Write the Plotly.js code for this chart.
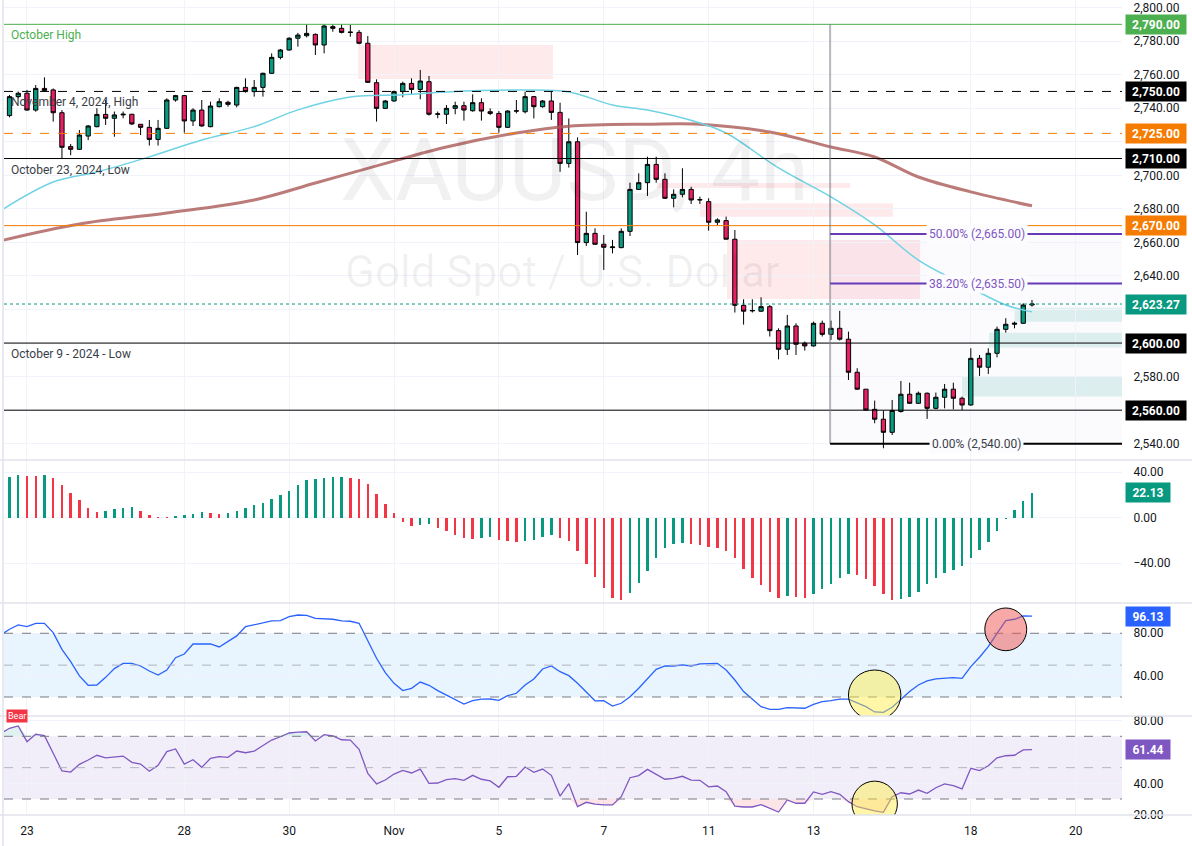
<!DOCTYPE html>
<html>
<head>
<meta charset="utf-8">
<script src="https://cdn.plot.ly/plotly-3.0.1.min.js"></script>
<style>
html,body{margin:0;padding:0;background:#ffffff;}
#chart{width:1192px;height:846px;}
</style>
</head>
<body>
<div id="chart"></div>
<script>
// ---------------- DATA ----------------
// 4h candles; candle number 0 = first candle of Oct 23
const firstCandle = -3;
const openP = [2732.0,2735.6,2746.9,2748.9,2738.9,2751.8,2750.9,2737.3,2717.1,2715.5,2723.4,2729.0,2736.3,2734.0,2736.0,2736.4,2730.4,2728.6,2721.4,2728.0,2744.9,2747.5,2732.4,2738.9,2729.0,2740.9,2743.5,2741.9,2752.4,2749.9,2752.4,2760.8,2770.3,2774.7,2781.7,2783.2,2784.0,2777.7,2788.6,2787.6,2785.4,2785.2,2778.7,2755.2,2739.9,2744.3,2749.9,2754.8,2751.2,2755.8,2736.4,2736.4,2739.9,2741.5,2738.5,2743.3,2737.9,2736.9,2728.6,2738.3,2737.9,2746.9,2740.9,2744.3,2737.5,2707.1,2720.0,2659.9,2665.4,2658.9,2656.9,2656.9,2666.6,2691.6,2695.6,2706.5,2697.6,2686.3,2688.7,2691.6,2685.3,2684.3,2672.0,2673.0,2661.9,2622.5,2619.2,2619.0,2621.7,2607.4,2596.3,2610.2,2599.9,2598.3,2611.8,2605.2,2608.8,2602.3,2582.6,2572.5,2560.5,2554.6,2546.8,2559.2,2569.5,2564.1,2570.1,2561.1,2567.7,2572.5,2567.1,2563.1,2590.9,2585.6,2593.9,2608.2,2611.2,2611.8,2622.7];
const highP = [2736.5,2747.9,2749.9,2750.9,2753.8,2758.4,2751.8,2738.9,2718.7,2727.0,2730.0,2740.0,2744.9,2738.0,2738.0,2736.6,2730.6,2733.0,2733.0,2745.9,2747.9,2747.9,2740.0,2744.9,2743.9,2745.9,2744.5,2752.8,2757.8,2756.8,2761.2,2772.7,2775.3,2782.3,2784.9,2790.0,2784.6,2790.0,2790.0,2790.0,2789.6,2786.6,2783.0,2757.2,2744.9,2750.5,2755.8,2757.8,2762.8,2759.2,2738.0,2741.9,2743.9,2743.9,2748.3,2745.9,2739.9,2738.3,2738.9,2744.9,2749.9,2747.3,2744.9,2749.9,2743.3,2733.9,2722.6,2678.3,2668.4,2664.4,2661.5,2668.4,2695.6,2701.2,2711.1,2711.1,2701.2,2691.6,2704.2,2693.2,2687.3,2686.3,2674.4,2675.4,2667.4,2626.1,2626.1,2627.3,2622.7,2608.8,2616.8,2611.8,2600.9,2612.8,2613.4,2613.4,2619.2,2606.8,2585.0,2572.5,2565.7,2559.8,2566.1,2577.4,2576.4,2571.1,2570.5,2570.5,2575.6,2576.4,2568.1,2596.9,2592.9,2596.9,2609.8,2614.8,2612.8,2623.7,2625.7];
const lowP = [2731.5,2734.6,2745.9,2738.5,2737.9,2749.9,2732.0,2710.1,2712.0,2715.1,2721.0,2728.6,2730.0,2723.0,2734.0,2730.0,2724.0,2717.7,2717.7,2727.6,2743.9,2725.4,2729.4,2729.0,2728.6,2740.5,2740.9,2740.5,2749.3,2746.9,2746.9,2760.4,2769.1,2774.3,2776.7,2782.2,2771.7,2772.7,2785.6,2784.6,2782.6,2778.1,2755.2,2732.0,2739.5,2743.9,2746.5,2747.9,2745.3,2735.6,2734.0,2730.6,2736.4,2732.6,2737.9,2732.6,2735.9,2725.4,2728.2,2736.9,2736.9,2733.9,2740.3,2733.0,2702.1,2704.6,2652.5,2657.9,2658.5,2643.6,2653.5,2656.5,2663.8,2691.3,2687.7,2695.6,2685.9,2680.9,2686.9,2682.9,2682.9,2667.0,2670.4,2661.9,2618.2,2611.0,2618.2,2618.6,2603.9,2590.3,2592.9,2592.9,2595.5,2597.9,2603.9,2601.9,2601.5,2578.0,2572.1,2559.8,2552.2,2537.3,2545.2,2558.6,2563.7,2563.7,2554.8,2560.5,2561.1,2560.5,2560.1,2562.7,2580.4,2581.6,2591.5,2606.2,2608.8,2611.4,2621.7];
const closeP = [2735.5,2746.9,2748.9,2738.9,2751.8,2750.5,2737.3,2716.7,2715.5,2724.0,2729.4,2736.3,2734.0,2736.0,2736.4,2730.6,2728.6,2721.4,2728.0,2744.9,2747.5,2732.4,2738.9,2729.4,2741.3,2743.9,2742.3,2752.4,2749.9,2752.4,2760.8,2770.3,2774.7,2781.7,2783.6,2784.6,2777.7,2789.0,2787.6,2785.2,2785.2,2778.7,2755.4,2739.9,2744.3,2749.9,2754.8,2751.2,2756.2,2736.4,2736.6,2739.9,2741.5,2738.9,2743.3,2738.3,2736.9,2728.6,2738.3,2738.4,2746.9,2740.9,2744.3,2737.5,2707.1,2720.0,2659.9,2665.4,2658.9,2657.1,2657.3,2666.6,2691.6,2695.6,2706.5,2697.6,2686.3,2688.7,2691.6,2685.3,2685.5,2672.0,2673.4,2661.9,2622.5,2619.0,2619.4,2621.7,2607.4,2596.3,2610.2,2599.3,2598.3,2611.8,2605.2,2608.8,2602.3,2582.6,2572.5,2560.1,2554.6,2546.8,2559.8,2569.5,2564.1,2570.1,2561.1,2567.7,2572.5,2567.1,2563.1,2590.9,2585.6,2593.9,2608.2,2611.2,2611.8,2622.7,2623.27];

// moving averages read at selected candles
const fastMaIdx = [-3,3,8,14,20,26,31,37,43,48,56,62,67,71,77,80,86,92,97,102,108,112,115];
const fastMaVal = [2679,2696,2702,2711,2721,2729,2739,2746.7,2748,2749.7,2750.8,2749.7,2741.9,2738.9,2731.2,2725.2,2704.4,2687.1,2670.4,2649.5,2632.9,2622.7,2618.6];
const slowMaIdx = [-3,6,16,26,33,40,48,56,62,71,77,85,92,97,102,108,115];
const slowMaVal = [2661,2671,2677.5,2685.3,2695.4,2705.6,2716.9,2725.2,2729.3,2730.5,2730.5,2725.8,2716.9,2710.9,2699,2690.1,2681.8];

// histogram oscillator (starts at candle -2)
const histFirst = -2;
const histVal = [36.0,37.5,36.9,36.5,37.5,35.2,28.7,22.0,15.8,8.8,5.3,5.9,7.6,8.8,9.0,5.9,2.3,0.9,0.3,1.5,2.3,3.2,5.0,4.1,3.2,4.1,5.9,8.5,11.1,12.9,16.4,19.9,23.4,28.7,33.1,34.0,34.9,35.7,35.9,34.9,34.0,29.6,20.8,12.0,4.1,-3.5,-7.0,-6.2,-5.9,-8.8,-11.7,-15.2,-17.6,-18.5,-17.6,-17.3,-19.3,-20.2,-21.1,-20.2,-19.3,-16.7,-14.9,-17.6,-20.2,-29.0,-40.4,-51.9,-61.5,-70.3,-72.4,-66.5,-57.7,-46.6,-35.2,-26.4,-23.4,-22.3,-23.2,-24.0,-25.8,-26.4,-29.0,-35.2,-45.1,-52.7,-59.2,-65.6,-70.3,-68.6,-69.4,-70.3,-67.4,-62.7,-58.0,-52.7,-49.2,-50.4,-53.9,-59.8,-67.4,-72.4,-71.8,-69.4,-65.1,-58.6,-52.7,-48.9,-46.0,-42.2,-35.8,-28.1,-21.1,-11.7,-0.9,6.7,14.6,22.13];

// stochastic (starts at candle -3)
const stochVal = [78.4,83.8,87.8,86.2,89.4,89.4,80.6,64.9,53.3,39.8,31.0,31.3,38.5,46.7,51.7,51.7,49.2,44.5,40.7,45.4,57.0,60.5,69.9,70.2,69.9,67.1,72.5,77.5,86.2,88.1,89.4,91.6,91.9,95.6,97.2,96.9,94.1,93.7,93.2,91.6,91.3,89.4,73.7,56.5,42.9,32.9,26.0,28.2,34.1,31.0,26.0,21.9,18.1,13.4,16.5,17.9,18.1,16.9,21.2,23.5,31.3,37.0,46.4,49.2,43.8,40.1,32.9,25.1,16.4,16.5,11.5,14.1,20.3,28.2,37.0,46.1,49.2,49.2,50.2,49.2,51.1,51.7,51.7,45.4,36.0,25.1,17.9,10.9,8.4,8.4,9.9,9.9,9.4,13.1,15.6,16.5,17.9,17.9,14.1,10.9,5.9,5.6,10.3,17.9,25.1,31.3,35.1,37.0,37.9,38.2,37.6,48.6,57.4,67.4,80.0,91.9,93.2,96.3,96.13];

// RSI (starts at candle -3)
const rsiVal = [71.9,75.1,76.6,66.6,71.3,70.4,59.2,47.9,47.2,52.1,54.9,57.9,56.3,57.0,57.4,53.4,52.3,47.7,51.5,60.2,61.9,52.3,55.1,50.2,56.0,57.0,56.6,60.6,59.5,60.6,64.3,67.6,69.7,72.1,72.7,72.9,67.0,71.0,70.2,67.8,67.6,61.7,46.4,39.6,42.1,45.9,48.3,46.6,49.1,40.0,40.2,42.3,43.0,41.9,45.1,42.6,41.5,37.5,44.2,44.5,50.4,47.0,49.1,45.1,31.9,39.8,25.1,27.9,26.7,26.2,26.2,31.5,43.6,44.9,48.9,45.9,42.6,43.2,44.5,42.1,41.9,37.8,38.3,34.7,25.5,24.9,24.9,26.4,24.1,21.7,29.4,27.3,27.3,34.5,33.0,34.7,33.0,28.3,25.1,23.6,22.5,21.5,31.5,34.0,33.2,35.7,33.6,37.2,39.6,38.5,36.4,49.6,48.1,51.2,56.3,57.6,57.9,61.3,61.44];
const rsiUpper = 70, rsiLower = 30;

// axis ticks
const dayTickIdx = [0,18,30,42,54,66,78,90,108,120];
const dayTickText = ['23','28','30','Nov','5','7','11','13','18','20'];
const priceTicks = [2540,2560,2580,2600,2620,2640,2660,2680,2700,2720,2740,2760,2780,2800];

// horizontal levels
const levelPrice = [2790,2750,2725,2710,2670,2623.27,2600,2560,2530];
const levelNote = {2790:'October High',2750:'November 4, 2024, High',2710:'October 23, 2024, Low',2600:'October 9 - 2024 - Low'};

// fibonacci retracement
const fibStartIdx = 91.9;
const fibPct = ['50.00%','38.20%','0.00%'];
const fibPrice = [2665,2635.5,2540];
const fibTopPrice = 2790;

// zones [fromCandle, toCandle, lowPrice, highPrice]
const supplyZones = [[37.9,60.2,2757.4,2777.7],[72.1,94.2,2692.4,2695.4],[77,99.1,2675.3,2683.2],[80.1,102.2,2626.3,2661.5]];
const demandZones = [[113.0,126,2612.7,2621.0],[110.1,126,2597.3,2606.2],[107.0,126,2568.1,2580.4]];

// ---------------- BUILD ----------------
const candleX = openP.map((_, k) => k + firstCandle);
const histX = histVal.map((_, k) => k + histFirst);
const histColor = histVal.map((v, k) => (k === 0 || v >= histVal[k-1]) ? '#089981' : '#f23645');
const oscX = stochVal.map((_, k) => k + firstCandle);

const fmt = v => v.toLocaleString('en-US',{minimumFractionDigits:2,maximumFractionDigits:2});
const FONT = 'Roboto, "Open Sans", Arial, sans-serif';
const TXT = '#131722';

// price labels that sit under level boxes are not shown
const coveredTicks = [2560,2600,2620,2720];

const traces = [
  {type:'candlestick', x:candleX, open:openP, high:highP, low:lowP, close:closeP, xaxis:'x', yaxis:'y',
   increasing:{line:{color:'#000000',width:1}, fillcolor:'#089981'},
   decreasing:{line:{color:'#000000',width:1}, fillcolor:'#e91e63'},
   whiskerwidth:0, hoverinfo:'skip', showlegend:false},
  {type:'scatter', mode:'lines', x:slowMaIdx, y:slowMaVal, xaxis:'x', yaxis:'y',
   line:{color:'rgba(170,90,86,0.8)', width:3, shape:'spline', smoothing:1}, hoverinfo:'skip', showlegend:false},
  {type:'scatter', mode:'lines', x:fastMaIdx, y:fastMaVal, xaxis:'x', yaxis:'y',
   line:{color:'#6fd3e3', width:1.5, shape:'spline', smoothing:1}, hoverinfo:'skip', showlegend:false},
  {type:'bar', x:histX, y:histVal, xaxis:'x', yaxis:'y2', width:0.28,
   marker:{color:histColor, line:{width:0}}, hoverinfo:'skip', showlegend:false},
  {type:'scatter', mode:'lines', x:oscX, y:stochVal, xaxis:'x', yaxis:'y3',
   line:{color:'#2962ff', width:1.3}, hoverinfo:'skip', showlegend:false},
  // RSI oversold / overbought shading
  {type:'scatter', mode:'lines', x:oscX, y:oscX.map(() => rsiLower), xaxis:'x', yaxis:'y4', line:{width:0}, hoverinfo:'skip', showlegend:false},
  {type:'scatter', mode:'lines', x:oscX, y:rsiVal.map(v => Math.min(v, rsiLower)), xaxis:'x', yaxis:'y4', line:{width:0}, fill:'tonexty', fillcolor:'rgba(242,54,69,0.13)', hoverinfo:'skip', showlegend:false},
  {type:'scatter', mode:'lines', x:oscX, y:oscX.map(() => rsiUpper), xaxis:'x', yaxis:'y4', line:{width:0}, hoverinfo:'skip', showlegend:false},
  {type:'scatter', mode:'lines', x:oscX, y:rsiVal.map(v => Math.max(v, rsiUpper)), xaxis:'x', yaxis:'y4', line:{width:0}, fill:'tonexty', fillcolor:'rgba(8,153,129,0.13)', hoverinfo:'skip', showlegend:false},
  {type:'scatter', mode:'lines', x:oscX, y:rsiVal, xaxis:'x', yaxis:'y4',
   line:{color:'#7e57c2', width:1.3}, hoverinfo:'skip', showlegend:false}
];

const shapes = [];
const annotations = [];

// pane backgrounds / bands
shapes.push({type:'rect', xref:'paper', x0:0, x1:1, yref:'y3', y0:20, y1:80, fillcolor:'rgba(33,150,243,0.1)', line:{width:0}, layer:'below'});
shapes.push({type:'rect', xref:'paper', x0:0, x1:1, yref:'y4', y0:rsiLower, y1:rsiUpper, fillcolor:'rgba(126,87,194,0.1)', line:{width:0}, layer:'below'});
[[80,'#787b86'],[50,'#b2b5be'],[20,'#787b86']].forEach(([v,c]) => shapes.push({type:'line', xref:'paper', x0:0, x1:1, yref:'y3', y0:v, y1:v, line:{color:c, width:1, dash:'dash'}}));
[[70,'#787b86'],[50,'#b2b5be'],[30,'#787b86']].forEach(([v,c]) => shapes.push({type:'line', xref:'paper', x0:0, x1:1, yref:'y4', y0:v, y1:v, line:{color:c, width:1, dash:'dash'}}));

// zones
supplyZones.forEach(z => shapes.push({type:'rect', xref:'x', yref:'y', x0:z[0], x1:z[1], y0:z[2], y1:z[3], fillcolor:'rgba(242,54,69,0.11)', line:{width:0}, layer:'below'}));
demandZones.forEach(z => shapes.push({type:'rect', xref:'x', yref:'y', x0:z[0], x1:z[1], y0:z[2], y1:z[3], fillcolor:'rgba(8,153,129,0.12)', line:{width:0}, layer:'below'}));
// fib background
shapes.push({type:'rect', xref:'x', yref:'y', x0:fibStartIdx, x1:126, y0:fibPrice[2], y1:fibPrice[0], fillcolor:'rgba(103,58,183,0.025)', line:{width:0}, layer:'below'});

// horizontal levels
const levelStyle = {
  2790:{color:'#4caf50', dash:'solid', box:'#4caf50'},
  2750:{color:'#000000', dash:'dash', box:'#000000'},
  2725:{color:'#f57c00', dash:'dash', box:'#f57c00'},
  2710:{color:'#000000', dash:'solid', box:'#000000'},
  2670:{color:'#f57c00', dash:'solid', box:'#f57c00'},
  2623.27:{color:'#089981', dash:'dot', box:'#089981'},
  2600:{color:'#000000', dash:'solid', box:'#000000'},
  2560:{color:'#000000', dash:'solid', box:'#000000'},
  2530:{color:null, dash:'solid', box:'#000000'}
};
levelPrice.forEach(p => {
  const st = levelStyle[p];
  if (st.color) shapes.push({type:'line', xref:'paper', x0:0, x1:1, yref:'y', y0:p, y1:p, line:{color:st.color, width:1, dash:st.dash}});
  annotations.push({xref:'paper', x:1, xanchor:'left', xshift:3, yref:'y', y:p, yshift:(p===2530?9:0), yanchor:'middle',
    text:'<b>'+fmt(p)+'</b>', showarrow:false, bgcolor:st.box, font:{family:FONT, size:12, color:'#ffffff'},
    width:54, height:13, borderpad:3, align:'center'});
  if (levelNote[p]) annotations.push({xref:'paper', x:0, xanchor:'left', xshift:5, yref:'y', y:p, yanchor:'top', yshift:-2,
    text:levelNote[p], showarrow:false, font:{family:FONT, size:12, color:(p===2790?'#4caf50':'#3a3e49')}});
});

// fib
shapes.push({type:'line', xref:'x', yref:'y', x0:fibStartIdx, x1:fibStartIdx, y0:fibPrice[2], y1:fibTopPrice, line:{color:'rgba(120,123,134,0.55)', width:2}});
fibPrice.forEach((p,k) => {
  const c = k < 2 ? '#673ab7' : '#000000';
  shapes.push({type:'line', xref:'x', yref:'y', x0:fibStartIdx, x1:126, y0:p, y1:p, line:{color:c, width:2}});
  annotations.push({xref:'x', x:108.7, yref:'y', y:p, text:fibPct[k]+' ('+fmt(p)+')', showarrow:false,
    bgcolor:'#fcfcfe', borderpad:2, font:{family:FONT, size:12, color:(k<2?'#7e57c2':'#3a3e49')}});
});

// circles
shapes.push({type:'circle', xref:'x', yref:'y3', x0:109.6, x1:114.4, y0:63.6, y1:103.8, fillcolor:'rgba(239,83,80,0.5)', line:{color:'#000000', width:1}, layer:'above'});
shapes.push({type:'circle', xref:'x', yref:'y3', x0:94.0, x1:100.0, y0:-1.6, y1:45.4, fillcolor:'rgba(255,235,59,0.45)', line:{color:'#000000', width:1}, layer:'above'});
shapes.push({type:'circle', xref:'x', yref:'y4', x0:94.4, x1:99.6, y0:12.4, y1:41.4, fillcolor:'rgba(255,235,59,0.45)', line:{color:'#000000', width:1}, layer:'above'});

// pane separators and left frame
const sepPx = [460,603,716,815];
sepPx.forEach(py => shapes.push({type:'line', xref:'paper', x0:-0.004, x1:1.07, yref:'paper', y0:1-py/815, y1:1-py/815, line:{color:'#e0e3eb', width:1.5}}));
shapes.push({type:'line', xref:'paper', x0:-0.0009, x1:-0.0009, yref:'paper', y0:-0.04, y1:1, line:{color:'#e0e3eb', width:1.5}});

// last value boxes in sub panes
annotations.push({xref:'paper', x:1, xanchor:'left', xshift:3, yref:'y2', y:histVal[histVal.length-1], text:'<b>'+histVal[histVal.length-1].toFixed(2)+'</b>', showarrow:false, bgcolor:'#089981', font:{family:FONT,size:12,color:'#fff'}, width:38, height:13, borderpad:3});
annotations.push({xref:'paper', x:1, xanchor:'left', xshift:3, yref:'y3', y:stochVal[stochVal.length-1], text:'<b>'+stochVal[stochVal.length-1].toFixed(2)+'</b>', showarrow:false, bgcolor:'#2962ff', font:{family:FONT,size:12,color:'#fff'}, width:38, height:13, borderpad:3});
annotations.push({xref:'paper', x:1, xanchor:'left', xshift:3, yref:'y4', y:rsiVal[rsiVal.length-1], text:'<b>'+rsiVal[rsiVal.length-1].toFixed(2)+'</b>', showarrow:false, bgcolor:'#7e57c2', font:{family:FONT,size:12,color:'#fff'}, width:38, height:13, borderpad:3});

// small divergence tag
annotations.push({xref:'paper', x:0, xanchor:'left', xshift:2, yref:'paper', y:1-716/815, yanchor:'middle', text:'Bear', showarrow:false, bgcolor:'#f23645', font:{family:FONT,size:9,color:'#fff'}, borderpad:1});

// watermark
annotations.push({xref:'x', x:62.7, yref:'y', y:2703.2, text:'XAUUSD, 4h', showarrow:false, font:{family:FONT, size:88, color:'rgba(19,23,34,0.06)'}});
annotations.push({xref:'x', x:61.3, yref:'y', y:2642.4, text:'Gold Spot / U.S. Dollar', showarrow:false, font:{family:FONT, size:44, color:'rgba(19,23,34,0.06)'}});

const yCommon = {side:'right', zeroline:false, showline:false, gridcolor:'#f0f3fa', ticks:'outside', ticklen:8, tickcolor:'rgba(0,0,0,0)',
  tickfont:{family:FONT, size:12, color:TXT}, fixedrange:true};

const layout = {
  width:1192, height:846,
  margin:{l:4, r:70, t:0, b:31, pad:0},
  paper_bgcolor:'#ffffff', plot_bgcolor:'#ffffff',
  showlegend:false, bargap:0,
  font:{family:FONT, size:12, color:TXT},
  xaxis:{range:[-2.63,125.3], anchor:'y4', tickvals:dayTickIdx, ticktext:dayTickText, showgrid:true, gridcolor:'#f0f3fa',
    zeroline:false, showline:false, ticks:'outside', ticklen:5, tickcolor:'rgba(0,0,0,0)', tickfont:{family:FONT,size:12,color:TXT}, rangeslider:{visible:false}, fixedrange:true},
  yaxis: Object.assign({}, yCommon, {domain:[1-460/815, 1], range:[2530.3, 2804.5], tickvals:priceTicks,
    ticktext:priceTicks.map(v => coveredTicks.includes(v) ? '' : fmt(v))}),
  yaxis2: Object.assign({}, yCommon, {domain:[1-603/815, 1-460/815], range:[-75.0, 50.7], tickvals:[-40,0,40], ticktext:['−40.00','0.00','40.00']}),
  yaxis3: Object.assign({}, yCommon, {domain:[1-716/815, 1-603/815], range:[2.1, 108.5], tickvals:[40,80], ticktext:['40.00','80.00']}),
  yaxis4: Object.assign({}, yCommon, {domain:[0, 1-716/815], range:[19.8, 82.95], tickvals:[20,40,80], ticktext:['20.00','40.00','80.00']}),
  shapes:shapes,
  annotations:annotations
};

Plotly.newPlot('chart', traces, layout, {staticPlot:true, displayModeBar:false});
</script>
</body>
</html>
